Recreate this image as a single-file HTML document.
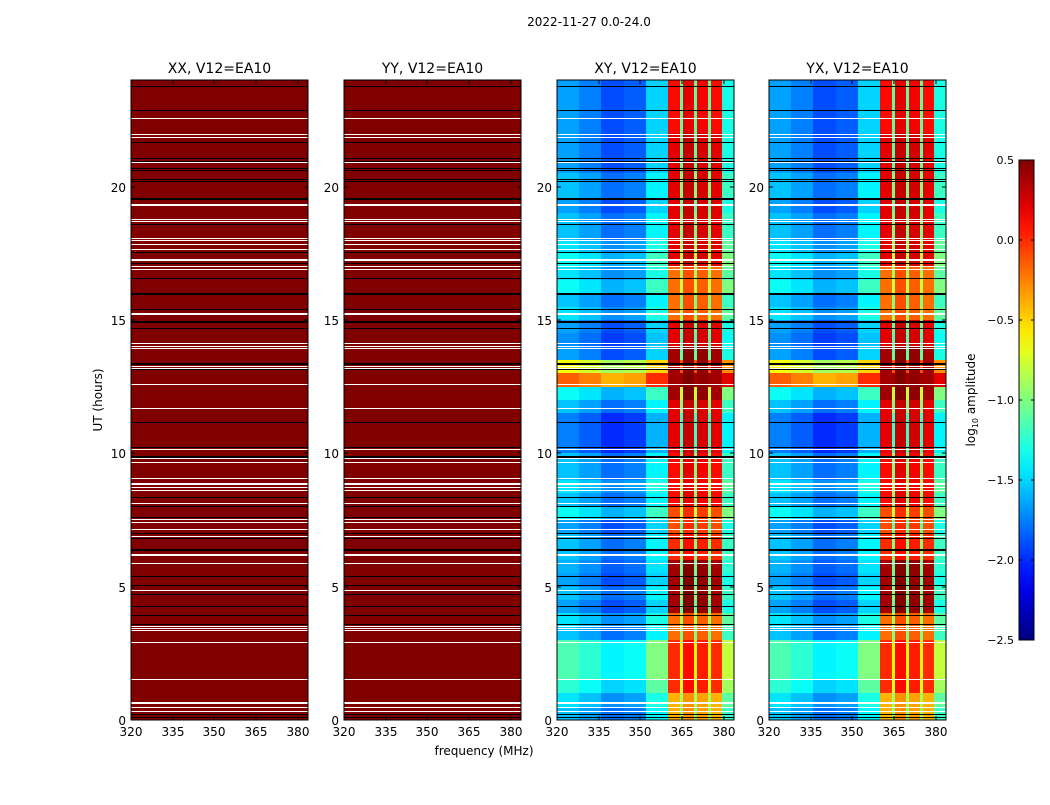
<!DOCTYPE html>
<html><head><meta charset="utf-8">
<style>
body{margin:0;background:#fff;}
svg text{font-family:"DejaVu Sans","Liberation Sans",sans-serif;fill:#000;}
</style></head>
<body>
<svg id="fig" width="1050" height="800" viewBox="0 0 1050 800" xmlns="http://www.w3.org/2000/svg" shape-rendering="crispEdges">
<rect width="1050" height="800" fill="#fff"/>
<text x="589" y="26" font-size="12" text-anchor="middle">2022-11-27 0.0-24.0</text>
<text x="484" y="755" font-size="12" text-anchor="middle">frequency (MHz)</text>
<text transform="translate(102,400) rotate(-90)" font-size="12" text-anchor="middle">UT (hours)</text>
<text transform="translate(975,400) rotate(-90)" font-size="12" text-anchor="middle">log<tspan font-size="8" dy="3">10</tspan><tspan dy="-3"> amplitude</tspan></text>
<g id="panels"></g>
<g id="cbar"></g>
</svg>
<script>
// ---- data ----
const panelNames = ["XX, V12=EA10","YY, V12=EA10","XY, V12=EA10","YX, V12=EA10"];
const xTicks = [320,335,350,365,380];
const yTicks = [0,5,10,15,20];
const cbarTicks = [0.5,0.0,-0.5,-1.0,-1.5,-2.0,-2.5];
const cbarTickLabels = ["0.5","0.0","\u22120.5","\u22121.0","\u22121.5","\u22122.0","\u22122.5"];
const parallelAmp = 0.5;
// frequency bins (MHz) for cross-hand panels
const freqEdges = [320,328,336,344,352,360,364.3,365.3,369.3,370.4,374.4,375.6,379.3,383.7];
const colBase = [-1.65,-1.75,-1.9,-1.85,-1.5,0.0,-1.1,0.1,-1.1,0.05,-1.1,0.0,-1.3];
const colKind = ["bg","bg","bg","bg","bg","rfi","bg","rfi","bg","rfi","bg","rfi","bg"];
// background offset per half hour, from t=0
const bgOffset = [0.1,0.2,0.4,0.5,0.5,0.5,0.1,0.2,0,0.1,0,0.05,0.1,0.1,0,0.3,0.1,0.2,0.1,0.1,-0.1,-0.1,-0.1,0.1,0.3,1.5,1.0,0,-0.05,0,0.2,0.1,0.3,0.2,0.3,0.2,0.1,0.1,0,0.1,0.1,0,0,0,0,0,0,0];
// rfi band offset per hour
const rfiOffset = [-0.4,0,0,-0.2,0.4,0.4,0,-0.1,0.1,0.1,0.2,0.2,0.4,0.4,0.2,-0.2,-0.2,0.2,0.2,0.2,0.2,0.2,0.1,0.1];
// flagged (white) rows: hours and thickness in hours
const whiteT = [22.54,21.96,21.86,20.89,19.31,18.78,18.68,18.06,17.97,17.85,17.64,17.25,17.0,16.89,15.22,14.13,14.02,13.92,13.27,13.19,12.57,11.69,10.15,9.79,9.66,9.04,8.84,8.72,8.61,8.12,7.59,7.52,7.42,7.14,6.89,6.17,5.87,4.86,3.52,3.45,3.37,2.91,1.52,0.65,0.48,0.31];
const whiteW = [.04,.04,.04,.04,.08,.04,.04,.04,.04,.04,.04,.08,.04,.04,.08,.04,.04,.04,.04,.04,.04,.04,.04,.04,.04,.04,.08,.04,.04,.04,.04,.04,.04,.04,.04,.08,.04,.04,.04,.04,.04,.04,.04,.08,.04,.04];
// scan boundary (black) rows
const blackT = [23.75,22.84,21.66,21.07,20.96,20.7,20.61,20.26,20.19,19.54,18.57,17.54,17.13,16.54,15.98,15.38,14.94,14.67,13.36,13.13,11.16,10.21,9.86,8.36,7.99,7.61,6.99,6.82,6.37,5.39,5.04,4.72,4.24,3.92,3.6,0.19,0.1];
const blackW = [.04,.04,.04,.04,.04,.04,.04,.04,.04,.08,.04,.04,.04,.04,.08,.04,.08,.04,.08,.04,.04,.04,.08,.04,.04,.04,.04,.04,.08,.04,.04,.04,.04,.04,.04,.04,.04];

// ---- layout ----
const NS="http://www.w3.org/2000/svg";
const panelX=[131,344,557,769], PW=177, PY=80, PH=640;
const fMin=320, fMax=383.7, tMin=0, tMax=24;
const vMin=-2.5, vMax=0.5;
function xScale(f,x0){return x0+(f-fMin)/(fMax-fMin)*PW;}
function yScale(t){return PY+PH-(t-tMin)/(tMax-tMin)*PH;}
function jet(v){
  let x=(v-vMin)/(vMax-vMin); x=Math.max(0,Math.min(1,x));
  const c=a=>Math.round(255*Math.max(0,Math.min(1,a)));
  const r=1.5-Math.abs(4*x-3), g=1.5-Math.abs(4*x-2), b=1.5-Math.abs(4*x-1);
  return `rgb(${c(r)},${c(g)},${c(b)})`;
}
function mk(tag,attrs,parent){const e=document.createElementNS(NS,tag);for(const k in attrs)e.setAttribute(k,attrs[k]);parent.appendChild(e);return e;}
const panels=document.getElementById('panels');
panelNames.forEach((name,pi)=>{
  const x0=panelX[pi];
  const g=mk('g',{},panels);
  
  
  if(pi<2){
    const r=mk('rect',{x:x0,y:yScale(tMax),width:PW,height:yScale(tMin)-yScale(tMax),fill:jet(parallelAmp)},g);
    
    
  } else {
    const nRows=bgOffset.length, dt=(tMax-tMin)/nRows;
    for(let ri=0;ri<nRows;ri++){
      const t0=tMin+ri*dt, t1=t0+dt;
      for(let ci=0;ci<colBase.length;ci++){
        const v=colKind[ci]==='rfi'?colBase[ci]+rfiOffset[Math.floor(t0)]:colBase[ci]+bgOffset[ri];
        const xa=Math.round(xScale(freqEdges[ci],x0)), xb=Math.round(xScale(freqEdges[ci+1],x0));
        const ya=Math.round(yScale(t1)), yb=Math.round(yScale(t0));
        const r=mk('rect',{x:xa,y:ya,width:xb-xa,height:yb-ya,fill:jet(v)},g);
        
        
      }
    }
  }
  whiteT.forEach((t,i)=>{
    const h=Math.max(1,Math.round(whiteW[i]/(tMax-tMin)*PH));
    const r=mk('rect',{x:x0,y:Math.round(yScale(t)-h/2),width:PW,height:h,fill:'#fff'},g);
    
    
  });
  blackT.forEach((t,i)=>{
    const h=Math.max(1,Math.round(blackW[i]/(tMax-tMin)*PH));
    const r=mk('rect',{x:x0,y:Math.round(yScale(t)-h/2),width:PW,height:h,fill:'#000'},g);
    
    
  });
  const fr=mk('rect',{x:x0,y:PY,width:PW,height:PH,fill:'none',stroke:'#000','stroke-width':1},g);
  
  
  const tt=mk('text',{x:x0+PW/2,y:PY-7,'font-size':14,'text-anchor':'middle'},g);
  tt.textContent=name;
  
  
  xTicks.forEach(f=>{
    const x=Math.round(xScale(f,x0));
    mk('line',{x1:x,x2:x,y1:PY+PH,y2:PY+PH-4,stroke:'#000'},g);
    mk('line',{x1:x,x2:x,y1:PY,y2:PY+4,stroke:'#000'},g);
    const l=mk('text',{x:x,y:PY+PH+16,'font-size':12,'text-anchor':'middle'},g);
    l.textContent=f;
    
    
  });
  yTicks.forEach(t=>{
    const y=Math.round(yScale(t));
    mk('line',{x1:x0,x2:x0+4,y1:y,y2:y,stroke:'#000'},g);
    mk('line',{x1:x0+PW,x2:x0+PW-4,y1:y,y2:y,stroke:'#000'},g);
    const l=mk('text',{x:x0-5,y:y+5,'font-size':12,'text-anchor':'end'},g);
    l.textContent=t;
    
    
  });
});
// colorbar
const cb=document.getElementById('cbar');


const CX=1019, CW=15, CY=160, CH=480;
function cy(v){return CY+(vMax-v)/(vMax-vMin)*CH;}
const defs=mk('defs',{},cb);
const lg=mk('linearGradient',{id:'jetg',x1:0,y1:1,x2:0,y2:0},defs);
for(let i=0;i<=20;i++){mk('stop',{offset:i/20,'stop-color':jet(vMin+(vMax-vMin)*i/20)},lg);}
mk('rect',{x:CX,y:CY,width:CW,height:CH,fill:'url(#jetg)',stroke:'#000'},cb);
cbarTicks.forEach((v,i)=>{
  const y=Math.round(cy(v));
  mk('line',{x1:CX,x2:CX+3,y1:y,y2:y,stroke:'#000'},cb);
  mk('line',{x1:CX+CW,x2:CX+CW-3,y1:y,y2:y,stroke:'#000'},cb);
  const l=mk('text',{x:CX-5,y:y+4,'font-size':11,'text-anchor':'end'},cb);
  l.textContent=cbarTickLabels[i];
  
  
});
</script>
</body></html>
